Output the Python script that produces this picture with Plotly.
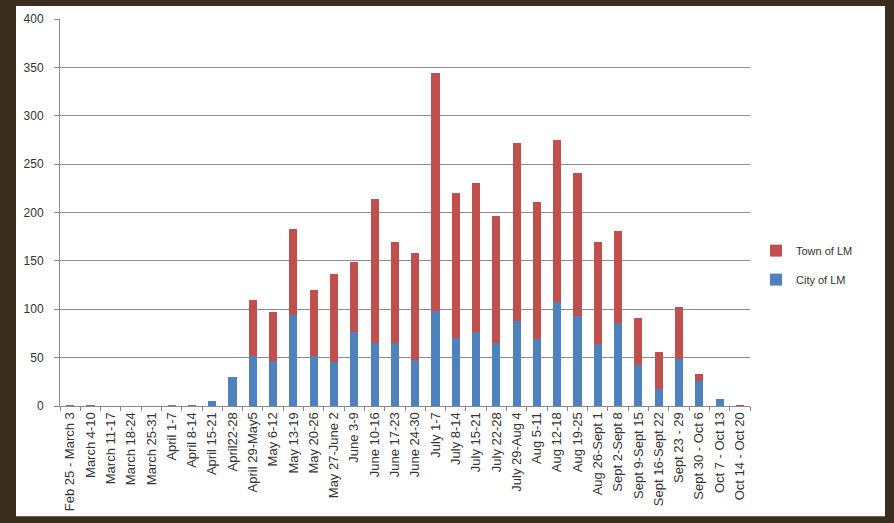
import plotly.graph_objects as go

categories = [
    "Feb 25 - March 3", "March 4-10", "March 11-17", "March 18-24", "March 25-31",
    "April 1-7", "April 8-14", "April 15-21", "April22-28", "April 29-May5",
    "May 6-12", "May 13-19", "May 20-26", "May 27-June 2", "June 3-9",
    "June 10-16", "June 17-23", "June 24-30", "July 1-7", "July 8-14",
    "July 15-21", "July 22-28", "July 29-Aug 4", "Aug 5-11", "Aug 12-18",
    "Aug 19-25", "Aug 26-Sept 1", "Sept 2-Sept 8", "Sept 9-Sept 15",
    "Sept 16-Sept 22", "Sept 23 - 29", "Sept 30 - Oct 6", "Oct 7 - Oct 13",
    "Oct 14 - Oct 20",
]
city = [1, 1, 0, 0, 0, 1, 1, 5, 30, 52, 47, 94, 52, 46, 77, 65, 65, 48, 98, 70,
        76, 65, 88, 69, 107, 93, 64, 86, 42, 18, 49, 26, 7, 0]
totals = [1, 1, 0, 0, 0, 1, 1, 5, 30, 110, 97, 183, 120, 136, 149, 214, 170, 158, 344, 220,
          230, 196, 272, 211, 275, 241, 170, 181, 91, 56, 102, 33, 7, 1]
town = [t - c for t, c in zip(totals, city)]

W, H = 894, 523
L, R, T, B = 60, 144, 17, 116
pw, ph = W - L - R, H - T - B

def px(x):
    return (x - L) / pw

def py(y):
    return (H - B - y) / ph

fig = go.Figure()
fig.add_trace(go.Bar(x=categories, y=city, name="City of LM", legendrank=2,
                     legendgroup="city",
                     marker=dict(color="#4f81bd", line=dict(width=0))))
fig.add_trace(go.Bar(x=categories, y=town, name="Town of LM", legendrank=1,
                     legendgroup="town",
                     marker=dict(color="#c0504d", line=dict(width=0))))

fig.add_shape(type="rect", xref="paper", yref="paper", layer="below",
              x0=px(16), x1=px(885), y0=py(518), y1=py(4),
              fillcolor="white", line=dict(width=0))

fig.update_layout(
    width=W, height=H,
    margin=dict(l=L, r=R, t=T, b=B, pad=0),
    barmode="stack", bargap=0.6,
    paper_bgcolor="#3a2e1e", plot_bgcolor="white",
    font=dict(family="Liberation Sans, Arial, sans-serif", size=11, color="#333333"),
    showlegend=True,
    legend=dict(x=px(756), y=py(265), xanchor="left", yanchor="middle",
                traceorder="grouped", tracegroupgap=10,
                font=dict(size=11, color="#333333"), bgcolor="rgba(0,0,0,0)",
                itemwidth=30),
    xaxis=dict(type="category", tickangle=-90, tickson="boundaries",
               ticks="outside", ticklen=4, tickcolor="#888888",
               showline=True, linecolor="#888888", linewidth=1,
               showgrid=False, tickfont=dict(size=13, color="#333333")),
    yaxis=dict(range=[0, 400], dtick=50, showgrid=True, gridcolor="#8c8c8c",
               gridwidth=1, showline=True, linecolor="#888888", linewidth=1,
               ticks="outside", ticklen=5, tickcolor="#888888",
               tickfont=dict(size=12, color="#333333"), zeroline=False,
               ticklabelstandoff=8),
)

fig.write_html(
    "out.html",
    config={"displayModeBar": False},
    post_script="document.body.style.margin='0';document.body.style.padding='0';"
                "document.body.style.background='#3a2e1e';",
)
